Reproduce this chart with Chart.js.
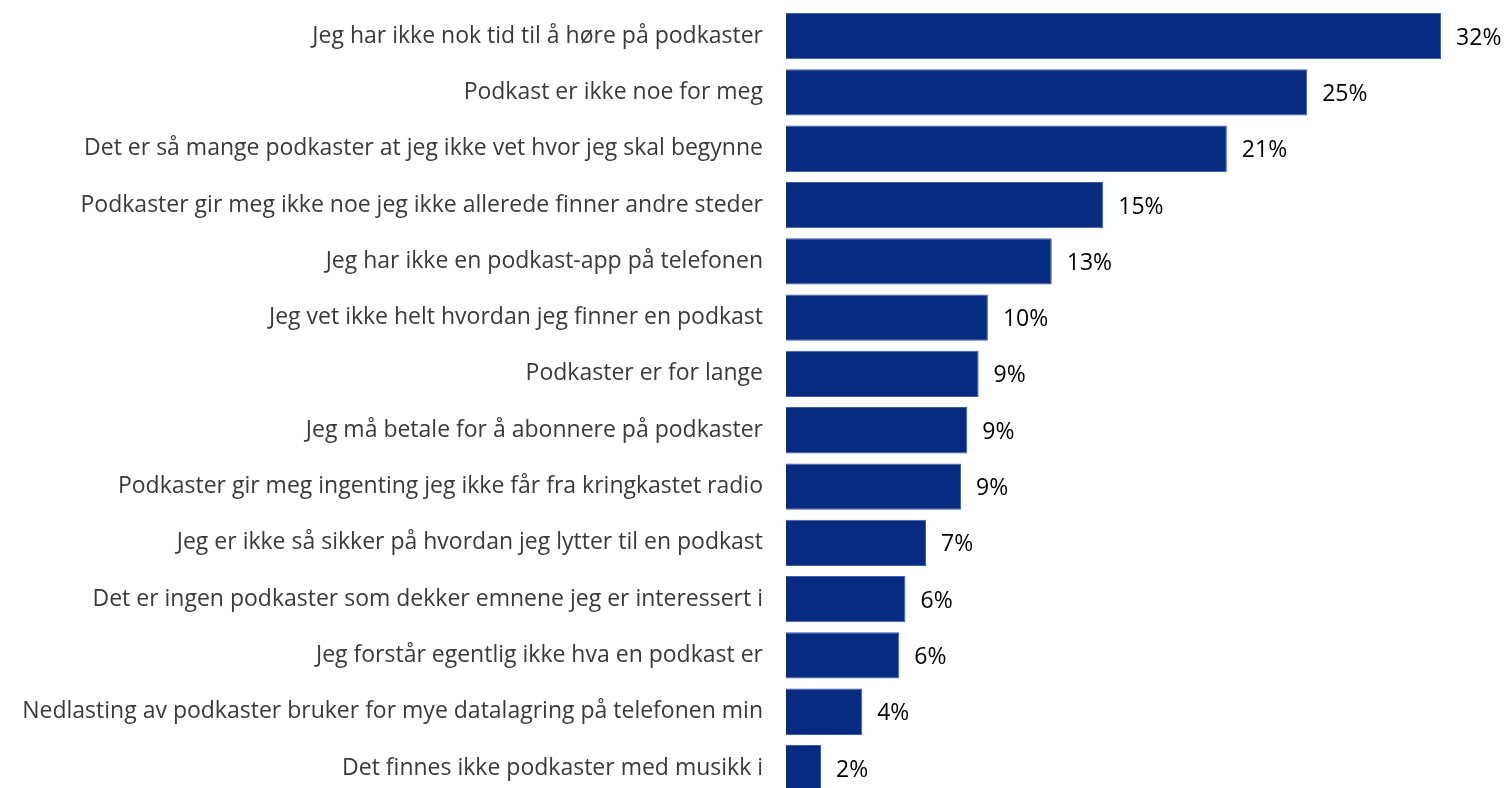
<!DOCTYPE html>
<html>
<head>
<meta charset="utf-8">
<title>Podkast</title>
<script src="https://cdn.jsdelivr.net/npm/chart.js@4.4.1/dist/chart.umd.min.js"></script>
<style>
    html, body { margin: 0; padding: 0; background: #fff; overflow: hidden; }
    #wrap { position: relative; width: 1506px; height: 800px; }
</style>
</head>
<body>
<div id="wrap"><canvas id="bar-chart"></canvas></div>
<script>
// Reasons for not listening to podcasts, share of respondents (%)
const reasons = [
    'Jeg har ikke nok tid til å høre på podkaster',
    'Podkast er ikke noe for meg',
    'Det er så mange podkaster at jeg ikke vet hvor jeg skal begynne',
    'Podkaster gir meg ikke noe jeg ikke allerede finner andre steder',
    'Jeg har ikke en podkast-app på telefonen',
    'Jeg vet ikke helt hvordan jeg finner en podkast',
    'Podkaster er for lange',
    'Jeg må betale for å abonnere på podkaster',
    'Podkaster gir meg ingenting jeg ikke får fra kringkastet radio',
    'Jeg er ikke så sikker på hvordan jeg lytter til en podkast',
    'Det er ingen podkaster som dekker emnene jeg er interessert i',
    'Jeg forstår egentlig ikke hva en podkast er',
    'Nedlasting av podkaster bruker for mye datalagring på telefonen min',
    'Det finnes ikke podkaster med musikk i'
];
const shares = [31.8, 25.3, 21.4, 15.4, 12.9, 9.8, 9.35, 8.8, 8.5, 6.8, 5.8, 5.5, 3.7, 1.7];
const axisMax = 34;

const barColor = '#082b82';
const labelFont = '"Open Sans"';

// Percent labels to the right of each bar
const valueLabels = {
    id: 'valueLabels',
    afterDatasetsDraw(chart) {
        const ctx = chart.ctx;
        const meta = chart.getDatasetMeta(0);
        ctx.save();
        ctx.font = '23px ' + labelFont;
        ctx.fillStyle = '#000';
        ctx.textAlign = 'left';
        ctx.textBaseline = 'middle';
        meta.data.forEach(function(bar, i) {
            ctx.fillText(Math.round(shares[i]) + '%', bar.x + 15, bar.y + 2);
        });
        ctx.restore();
    }
};

function drawChart() {
    const ctx = document.getElementById('bar-chart').getContext('2d');
    new Chart(ctx, {
        type: 'bar',
        data: {
            labels: reasons,
            datasets: [{
                data: shares,
                backgroundColor: barColor,
                borderColor: '#3b5ca8',
                borderWidth: 1,
                barPercentage: 0.822,
                categoryPercentage: 1
            }]
        },
        options: {
            indexAxis: 'y',
            responsive: true,
            maintainAspectRatio: false,
            animation: false,
            layout: {
                padding: { top: 8, bottom: 3.8, left: 0, right: 19.6 }
            },
            plugins: {
                legend: { display: false },
                tooltip: { enabled: false }
            },
            scales: {
                x: {
                    display: false,
                    min: 0,
                    max: axisMax
                },
                y: {
                    grid: { display: false, drawTicks: false },
                    border: { display: false },
                    ticks: {
                        autoSkip: false,
                        padding: 23,
                        color: '#3a3a3a',
                        font: { family: labelFont, size: 23 }
                    },
                    // label column ends where the bars start; no extra room above/below
                    afterFit: function(scale) {
                        scale.width = 786;
                        scale.paddingTop = 0;
                        scale.paddingBottom = 0;
                    }
                }
            }
        },
        plugins: [valueLabels]
    });
}

document.fonts.load('23px ' + labelFont).then(drawChart, drawChart);
</script>
</body>
</html>
